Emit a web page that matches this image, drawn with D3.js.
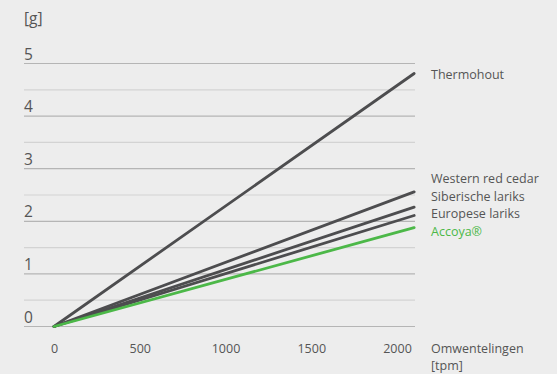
<!DOCTYPE html>
<html>
<head>
<meta charset="utf-8">
<script src="https://cdn.jsdelivr.net/npm/d3@7"></script>
<style>
  html, body { margin: 0; padding: 0; background: #ededed; }
  svg { display: block; font-family: "Open Sans", "DejaVu Sans", sans-serif; }
</style>
</head>
<body>
<svg id="chart" width="557" height="374"></svg>
<script>
// Mass loss [g] against rotation speed [tpm]
const species = ["Thermohout", "Western red cedar", "Siberische lariks", "Europese lariks", "Accoya®"];
const startValues = [0, 0, 0, 0, 0];
const endValues = [4.81, 2.56, 2.27, 2.11, 1.88];
const rpmRange = [0, 2100];
const seriesColors = ["#4d4d4f", "#4d4d4f", "#4d4d4f", "#4d4d4f", "#4cb848"];
const labelColors = ["#555555", "#555555", "#555555", "#555555", "#4cb848"];
const xTicks = [0, 500, 1000, 1500, 2000];
const yTicks = [0, 1, 2, 3, 4, 5];
const yHalfTicks = [0.5, 1.5, 2.5, 3.5, 4.5];
const yTitle = "[g]";
const xTitle = ["Omwentelingen", "[tpm]"];

const svg = d3.select("#chart");
const gridLeft = 24, gridRight = 415;

const x = d3.scaleLinear().domain([0, 2000]).range([54, 397]);
const y = d3.scaleLinear().domain([0, 5]).range([326.5, 63.5]);

// half-unit grid lines (light)
svg.append("g").selectAll("line").data(yHalfTicks).join("line")
  .attr("x1", gridLeft).attr("x2", gridRight)
  .attr("y1", d => y(d)).attr("y2", d => y(d))
  .attr("stroke", "#d3d3d3").attr("stroke-width", 1.2);

// unit grid lines
svg.append("g").selectAll("line").data(yTicks).join("line")
  .attr("x1", gridLeft).attr("x2", gridRight)
  .attr("y1", d => y(d)).attr("y2", d => y(d))
  .attr("stroke", "#b5b5b5").attr("stroke-width", 1.2);

// y tick labels sit just above their grid line
svg.append("g").selectAll("text").data(yTicks).join("text")
  .attr("x", gridLeft).attr("y", d => y(d) - 4)
  .attr("font-size", 15.5).attr("fill", "#555")
  .text(d => d);

svg.append("text").attr("x", gridLeft).attr("y", 24)
  .attr("font-size", 15.5).attr("fill", "#555").text(yTitle);

// x axis labels
const xAxis = d3.axisBottom(x).tickValues(xTicks).tickFormat(d3.format("d"))
  .tickSize(0).tickPadding(0);
const xg = svg.append("g").attr("transform", "translate(0,353)").call(xAxis);
xg.select(".domain").remove();
xg.selectAll("text").attr("font-size", 12.5).attr("fill", "#555")
  .attr("font-family", "'Open Sans', sans-serif").attr("dy", 0);

svg.append("g").selectAll("text").data(xTitle).join("text")
  .attr("x", 431).attr("y", (d, i) => 353 + i * 17)
  .attr("font-size", 12.5).attr("fill", "#555").text(d => d);

// series lines, drawn back to front so Accoya sits on top
const data = species.map((name, i) => ({
  name, color: seriesColors[i],
  pts: [[rpmRange[0], startValues[i]], [rpmRange[1], endValues[i]]]
}));
const line = d3.line().x(d => x(d[0])).y(d => y(d[1]));
svg.append("g").selectAll("path").data(data).join("path")
  .attr("d", d => line(d.pts))
  .attr("fill", "none").attr("stroke", d => d.color)
  .attr("stroke-width", 2.8).attr("stroke-linecap", "round");

// series labels at the right
const labelY = [75, 179, 197, 214, 232];
svg.append("g").selectAll("text").data(species).join("text")
  .attr("x", 431).attr("y", (d, i) => labelY[i]).attr("dy", "0.35em")
  .attr("font-size", 12.5).attr("fill", (d, i) => labelColors[i])
  .text(d => d);
</script>
</body>
</html>
